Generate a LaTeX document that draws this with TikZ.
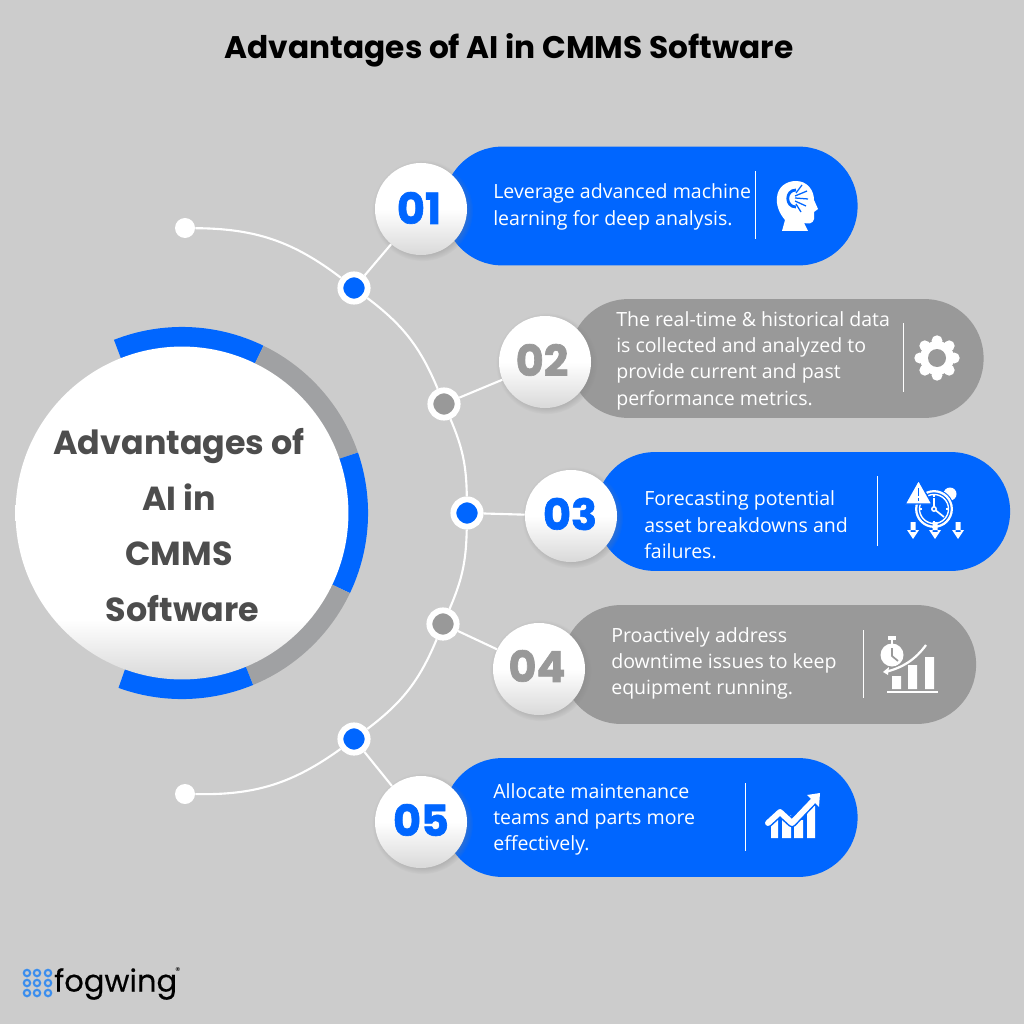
\documentclass[tikz,border=0pt]{standalone}
\usepackage{fontspec}
\setmainfont{Open Sans}
\newfontfamily\headfont{Poppins}
\newfontfamily\numfont[BoldFeatures={FakeBold=1.5}]{Poppins}
\newfontfamily\logofont[FakeBold=0.4]{Poppins}
\usetikzlibrary{shadows,fadings}
\definecolor{pageback}{HTML}{CCCCCC}
\definecolor{pillblue}{HTML}{0066FF}
\definecolor{pillgrey}{HTML}{999999}
\definecolor{rimgrey}{HTML}{A0A1A3}
\definecolor{headink}{HTML}{4D4D4D}
\definecolor{logoblue}{HTML}{3B8EEE}
\definecolor{numlow}{HTML}{D9D9D9}
\pgfdeclareverticalshading{numfade}{100bp}{color(0bp)=(numlow); color(25bp)=(numlow); color(50bp)=(white); color(100bp)=(white)}
\pgfdeclareverticalshading{mainfade}{100bp}{color(0bp)=(numlow); color(25bp)=(numlow); color(34bp)=(white); color(100bp)=(white)}
\tikzset{
  pill/.style={rectangle, rounded corners=1.47cm, minimum height=2.97cm, minimum width=10.35cm},
  bluepill/.style={pill, fill=pillblue},
  greypill/.style={pill, fill=pillgrey},
  numdisc/.style={circle, shading=numfade, minimum size=2.3cm, inner sep=0pt,
    circular drop shadow={shadow xshift=1pt, shadow yshift=-1pt, shadow scale=1.1, opacity=0.35}},
  numtext/.style={inner sep=0pt, font=\numfont\bfseries\fontsize{30.5}{30.5}\selectfont},
  bodytext/.style={anchor=west, align=left, text=white, inner sep=0pt, font=\fontsize{13.9}{18.7}\selectfont},
  bluedot/.style={circle, draw=white, line width=4.2pt, fill=pillblue, minimum size=0.68cm, inner sep=0pt},
  greydot/.style={circle, draw=white, line width=4.2pt, fill=pillgrey, minimum size=0.68cm, inner sep=0pt},
  enddot/.style={circle, fill=white, minimum size=0.5cm, inner sep=0pt},
  railline/.style={draw=white, line width=1.5pt},
  divider/.style={draw=white, line width=0.7pt},
  logodot/.style={circle, draw=logoblue, line width=1.5pt, minimum size=0.16cm, inner sep=0pt},
}
\begin{document}
\begin{tikzpicture}[x=0.025cm, y=-0.025cm]
  \useasboundingbox[fill=pageback] (0,0) rectangle (1024,1024);
  % Header
  \node (title) at (509,50) {\headfont\bfseries\fontsize{22.2}{24}\selectfont Advantages of AI in CMMS Software};
  % Rim
  \coordinate (mid) at (182,513);
  \foreach \from/\to/\shade in {111.5/64/pillblue, 64/19/rimgrey, 19/-25.5/pillblue, -25.5/-67.5/rimgrey, -67.5/-110/pillblue}
    \draw[\shade, line width=0.6cm] (mid) ++(\from:4.35cm) arc[start angle=\from, end angle=\to, radius=4.35cm];
  % Main disc
  \node (main) [circle, shading=mainfade, minimum size=8.32cm, inner sep=0pt] at (mid) {};
  \node (maintext) [align=center, text=headink, font=\headfont\bfseries\fontsize{23.7}{39.6}\selectfont] at (179,525) {Advantages of\\AI in\\CMMS\\\hspace*{5pt}Software};
  % Rail
  \node (topend) [enddot] at (185,228) {};
  \node (dota) [bluedot] at (354,288) {};
  \node (dotb) [greydot] at (444,404) {};
  \node (dotc) [bluedot] at (467,513) {};
  \node (dotd) [greydot] at (443,624) {};
  \node (dote) [bluedot] at (354,739) {};
  \node (lowend) [enddot] at (185,794) {};
  \draw[railline] (topend) to[bend left=18.5] (dota);
  \draw[railline] (dota) to[bend left=15.2] (dotb);
  \draw[railline] (dotb) to[bend left=11.2] (dotc);
  \draw[railline] (dotc) to[bend left=11.2] (dotd);
  \draw[railline] (dotd) to[bend left=15.2] (dote);
  \draw[railline] (dote) to[bend left=18.5] (lowend);
  % Pills
  \node (pilla) [bluepill] at (650.5,206) {};
  \node (pillb) [greypill] at (776.5,358.5) {};
  \node (pillc) [bluepill] at (803,511.5) {};
  \node (pilld) [greypill] at (769,664.5) {};
  \node (pille) [bluepill] at (650.5,817.5) {};
  % Numbers
  \node (numa) [numdisc] at (421,209) {};
  \node (numb) [numdisc] at (545,362) {};
  \node (numc) [numdisc] at (571,516) {};
  \node (numd) [numdisc] at (539,669) {};
  \node (nume) [numdisc] at (421,822) {};
  \node (labela) [numtext, text=pillblue] at (419,208) {01};
  \node (labelb) [numtext, text=pillgrey] at (542,360) {02};
  \node (labelc) [numtext, text=pillblue] at (570,514) {03};
  \node (labeld) [numtext, text=pillgrey] at (537,666) {04};
  \node (labele) [numtext, text=pillblue] at (421,820) {05};
  \draw[railline] (dota) -- (numa);
  \draw[railline] (dotb) -- (numb);
  \draw[railline] (dotc) -- (numc);
  \draw[railline] (dotd) -- (numd);
  \draw[railline] (dote) -- (nume);
  % Texts
  \node (texta) [bodytext] at (493,207) {Leverage advanced machine\\learning for deep analysis.};
  \node (textb) [bodytext] at (616,360.5) {The real-time \& historical data\\is collected and analyzed to\\provide current and past\\performance metrics.};
  \node (textc) [bodytext] at (644,525) {Forecasting potential\\asset breakdowns and\\failures.};
  \node (textd) [bodytext] at (611,663.5) {Proactively address\\downtime issues to keep\\equipment running.};
  \node (texte) [bodytext] at (493,819.5) {Allocate maintenance\\teams and parts more\\effectively.};
  % Dividers
  \draw[divider] (755,171) -- (755,239);
  \draw[divider] (903,323) -- (903,392);
  \draw[divider] (877,476) -- (877,546);
  \draw[divider] (863,630) -- (863,698);
  \draw[divider] (745,783) -- (745,851);
  % Head icon
  \fill[white] (782,231) -- (785,220) .. controls (779,213) and (776,205) .. (777,197)
    .. controls (778,187) and (786,181) .. (796,181) .. controls (807,181) and (814,190) .. (814,200)
    -- (818,209) -- (814,212) -- (814,219) .. controls (813,224) and (808,224) .. (804,223) -- (808,231) -- cycle;
  \draw[pillblue, line width=2pt] (796,190) .. controls (785,190) and (785,207) .. (796,207);
  \draw[pillblue, line width=0.9pt] (795,198) -- (808,199) (795,196) -- (807,191) (796,193) -- (802,185) (795,201) -- (806,206) (796,204) -- (801,212);
  % Gear icon
  \coordinate (gear) at (937,358);
  \foreach \a in {0,45,...,315}
    \fill[white] (gear) ++(\a:0.43cm) circle[radius=5.5];
  \fill[white] (gear) circle[radius=17];
  \fill[pillgrey] (gear) circle[radius=9];
  % Clock icon
  \coordinate (clock) at (934,509);
  \fill[white] (950,494) circle[radius=6.5];
  \fill[pillblue] (clock) circle[radius=20];
  \draw[white, line width=1.6pt] (clock) circle[radius=17.8];
  \draw[white, line width=1pt] (clock) circle[radius=14.5];
  \draw[white, line width=1.2pt] (934,498) -- (clock) -- (944,517);
  \foreach \a in {0,90,180,270}
    \draw[white, line width=1pt] (clock) ++(\a:0.3cm) -- ++(\a:0.07cm);
  \fill[white] (clock) circle[radius=3];
  \fill[pillblue] (clock) circle[radius=1.3];
  \draw[pillblue, fill=white, line width=1pt, line join=round] (918.5,480) -- (932,504) -- (905,504) -- cycle;
  \draw[pillblue, line width=1.2pt] (918.5,488) -- (918.5,496) (918.5,498) -- (918.5,501);
  \foreach \x in {913,935,958}
    \fill[white] (\x-2.5,522) rectangle (\x+2.5,532) (\x-6,530) -- (\x+6,530) -- (\x,539) -- cycle;
  % Stopwatch icon
  \fill[white] (892,655) circle[radius=11.5];
  \fill[white] (888,636) rectangle (896,640);
  \draw[white, line width=1.6pt] (892,640) -- (892,644);
  \draw[pillgrey, line width=1.2pt] (892,648) -- (892,656) -- (898,661);
  \draw[pillgrey, line width=3.4pt] (926,645) .. controls (915,660) and (902,668) .. (885,672);
  \draw[white, line width=1.6pt] (926,645) .. controls (915,660) and (902,668) .. (885,672);
  \fill[white] (883,672) -- (889,667) -- (888,675) -- cycle;
  \fill[white] (892,676) rectangle (901,689) (908,665) rectangle (917,689) (925,657) rectangle (934,689);
  \draw[white, line width=1.4pt] (887,692) -- (938,692);
  % Chart icon
  \fill[white] (771,820) rectangle (778,838) (782,815) rectangle (791,838) (794,820) rectangle (803,838) (807,806) rectangle (815,838);
  \draw[pillblue, line width=6.4pt, line join=round] (768,823) -- (780,812) -- (792,823) -- (812,802);
  \draw[white, line width=4.2pt, line cap=round, line join=round] (768,823) -- (780,812) -- (792,823) -- (813,801);
  \fill[white] (807,795) -- (820,793) -- (819,807) -- cycle;
  % Logo
  \foreach \x/\col in {27/a,37/b,48/c}
    \foreach \y/\row in {973/a,983/b,993/c}
      \node (logo\col\row) [logodot] at (\x,\y) {};
  \node (logoword) [anchor=west, inner sep=0pt, text=black, font=\logofont\fontsize{21.7}{22}\selectfont] at (54,984) {fogwing};
  \node (logomark) [inner sep=0pt, text=black, font=\headfont\fontsize{7}{7}\selectfont] at (178,971) {®};
\end{tikzpicture}
\end{document}
